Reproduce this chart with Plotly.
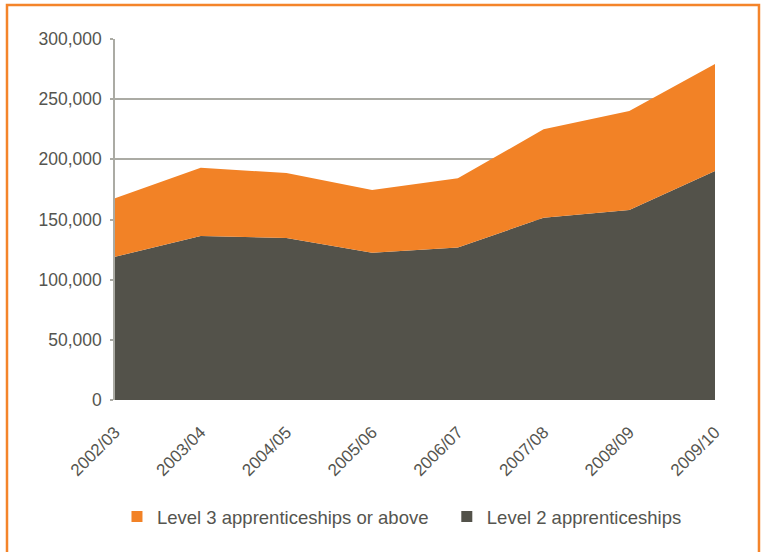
import plotly.graph_objects as go

years = ["2002/03", "2003/04", "2004/05", "2005/06", "2006/07", "2007/08", "2008/09", "2009/10"]
level2 = [119000, 136300, 134600, 122400, 126700, 151500, 157900, 190300]
level3 = [48600, 56800, 54000, 52100, 57500, 73500, 82300, 88900]
y_ticks = [0, 50000, 100000, 150000, 200000, 250000, 300000]
legend_names = ["Level 3 apprenticeships or above", "Level 2 apprenticeships"]

ORANGE = "#F28226"
DARK = "#53524A"
GRID = "#ABABA4"
TEXT = "#55554F"

fig = go.Figure()
fig.add_trace(go.Scatter(
    x=years, y=level2, name=legend_names[1],
    mode="none", stackgroup="one", fillcolor=DARK, showlegend=False,
))
fig.add_trace(go.Scatter(
    x=years, y=level3, name=legend_names[0],
    mode="none", stackgroup="one", fillcolor=ORANGE, showlegend=False,
))
# legend entries with square markers, one legend box each
for name, col, lg in zip(legend_names, [ORANGE, DARK], ["legend", "legend2"]):
    fig.add_trace(go.Scatter(
        x=[None], y=[None], name=name, mode="markers", legend=lg,
        marker=dict(symbol="square", size=11, color=col),
    ))

legend_common = dict(
    orientation="h", y=-0.324, yanchor="middle", xanchor="left",
    font=dict(size=18.5, color=TEXT), bgcolor="rgba(0,0,0,0)",
)

fig.update_layout(
    width=764, height=552,
    margin=dict(l=115, r=49, t=39, b=152, autoexpand=False),
    paper_bgcolor="white", plot_bgcolor="white",
    font=dict(family="Liberation Sans, Arial, sans-serif", size=17, color=TEXT),
    showlegend=True,
    legend=dict(x=0.0033, **legend_common),
    legend2=dict(x=0.553, **legend_common),
    xaxis=dict(
        type="category", range=[0, 7], showgrid=False, zeroline=False,
        tickangle=-45, tickfont=dict(size=17, color=TEXT), ticks="",
        showline=False, ticklabelstandoff=18,
    ),
    yaxis=dict(
        range=[0, 300000], tickvals=y_ticks, tickformat=",d",
        showgrid=True, gridcolor=GRID, gridwidth=1.5,
        showline=True, linecolor=GRID, linewidth=1.5,
        zeroline=False, ticks="outside", ticklen=3, tickcolor=GRID, tickwidth=1.5,
        tickfont=dict(size=17.5, color=TEXT), ticklabelstandoff=5,
    ),
    shapes=[dict(
        type="rect", xref="paper", yref="paper",
        x0=-0.18, x1=1.0733, y0=-0.45, y1=1.0942,
        line=dict(color="#F4842A", width=2.5), layer="below",
    )],
)

fig.write_html("out.html", config={"displayModeBar": False},
               post_script="document.body.style.margin='0px';")
